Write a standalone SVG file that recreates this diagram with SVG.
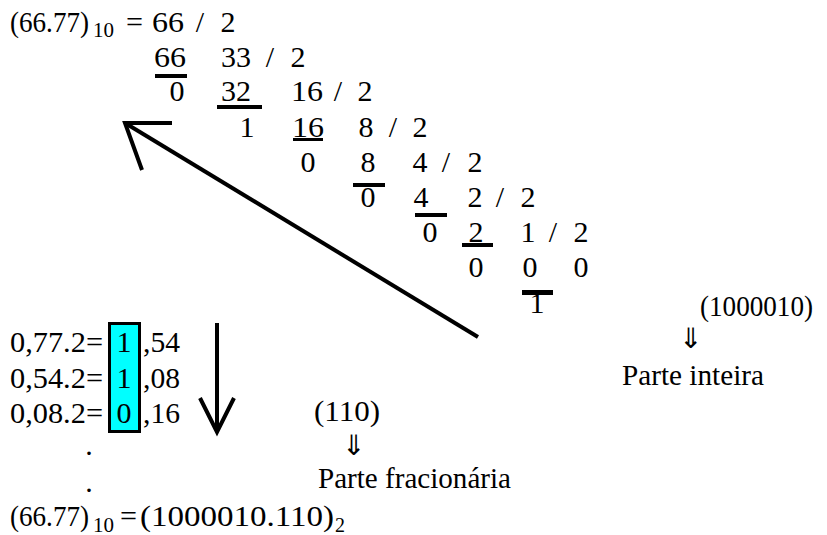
<svg xmlns="http://www.w3.org/2000/svg" width="827" height="535" viewBox="0 0 827 535">
<style>
text{font-family:"Liberation Serif","Times New Roman",serif;font-size:30px;fill:#000}
.c{text-anchor:middle}
.sub{font-size:20px}
.arr{font-family:"DejaVu Sans","Noto Sans",sans-serif;font-size:28px;text-anchor:middle}
.bar{fill:#000}
.ln{stroke:#000;stroke-width:4;fill:none;stroke-linecap:butt}
</style>
<rect width="827" height="535" fill="#fff"/>
<g id="division">
<g id="row1">
<text x="10" y="32" textLength="79" lengthAdjust="spacingAndGlyphs">(66.77)</text>
<text class="sub" x="93" y="37" textLength="21" lengthAdjust="spacingAndGlyphs">10</text>
<text x="126" y="32" textLength="17" lengthAdjust="spacingAndGlyphs">=</text>
<text x="152" y="32" textLength="32" lengthAdjust="spacingAndGlyphs">66</text>
<text class="c" x="200" y="32">/</text>
<text class="c" x="228" y="32">2</text>
</g>
<g id="row2">
<text x="154" y="67" textLength="32" lengthAdjust="spacingAndGlyphs">66</text>
<rect class="bar" x="155" y="74" width="32" height="4"/>
<text x="221" y="67" textLength="30" lengthAdjust="spacingAndGlyphs">33</text>
<text class="c" x="270" y="67">/</text>
<text class="c" x="298" y="67">2</text>
</g>
<g id="row3">
<text class="c" x="177" y="101">0</text>
<text x="221" y="101" textLength="30" lengthAdjust="spacingAndGlyphs">32</text>
<rect class="bar" x="217" y="105" width="45" height="4"/>
<text x="291" y="101" textLength="32" lengthAdjust="spacingAndGlyphs">16</text>
<text class="c" x="338" y="101">/</text>
<text class="c" x="365" y="101">2</text>
</g>
<g id="row4">
<text class="c" x="247" y="137">1</text>
<text x="292" y="137" textLength="32" lengthAdjust="spacingAndGlyphs">16</text>
<rect class="bar" x="293" y="138" width="30" height="3"/>
<text class="c" x="366" y="137">8</text>
<text class="c" x="393" y="137">/</text>
<text class="c" x="420" y="137">2</text>
</g>
<g id="row5">
<text class="c" x="308" y="172">0</text>
<text class="c" x="368" y="172">8</text>
<rect class="bar" x="353" y="183" width="32" height="4"/>
<text class="c" x="420" y="172">4</text>
<text class="c" x="446" y="172">/</text>
<text class="c" x="475" y="172">2</text>
</g>
<g id="row6">
<text class="c" x="368" y="207">0</text>
<text class="c" x="421" y="207">4</text>
<rect class="bar" x="415" y="213" width="32" height="4"/>
<text class="c" x="475" y="207">2</text>
<text class="c" x="500" y="207">/</text>
<text class="c" x="528" y="207">2</text>
</g>
<g id="row7">
<text class="c" x="430" y="242">0</text>
<text class="c" x="476" y="242">2</text>
<rect class="bar" x="462" y="243" width="31" height="4"/>
<text class="c" x="528" y="242">1</text>
<text class="c" x="553" y="242">/</text>
<text class="c" x="581" y="242">2</text>
</g>
<g id="row8">
<text class="c" x="476" y="277">0</text>
<text class="c" x="530" y="277">0</text>
<text class="c" x="581" y="277">0</text>
</g>
<g id="row9">
<text class="c" x="537" y="313">1</text>
<rect class="bar" x="522" y="290" width="31" height="5"/>
</g>
</g>
<g id="integer-result">
<text x="700" y="316" textLength="113" lengthAdjust="spacingAndGlyphs">(1000010)</text>
<text class="arr" x="691" y="348">⇓</text>
<text x="622" y="385" textLength="142" lengthAdjust="spacingAndGlyphs">Parte inteira</text>
</g>
<g id="fraction">
<rect x="109.5" y="323.5" width="30" height="108" fill="#00ffff" stroke="#000" stroke-width="3"/>
<text x="10" y="352" textLength="93" lengthAdjust="spacingAndGlyphs">0,77.2=</text>
<text class="c" x="124" y="352">1</text>
<text x="143" y="352" textLength="37" lengthAdjust="spacingAndGlyphs">,54</text>
<text x="10" y="388" textLength="93" lengthAdjust="spacingAndGlyphs">0,54.2=</text>
<text class="c" x="124" y="388">1</text>
<text x="143" y="388" textLength="37" lengthAdjust="spacingAndGlyphs">,08</text>
<text x="10" y="423" textLength="93" lengthAdjust="spacingAndGlyphs">0,08.2=</text>
<text class="c" x="124" y="423">0</text>
<text x="143" y="423" textLength="37" lengthAdjust="spacingAndGlyphs">,16</text>
<text class="c" x="89" y="455">.</text>
<text class="c" x="89" y="492">.</text>
</g>
<g id="fraction-result">
<text x="314" y="421" textLength="66" lengthAdjust="spacingAndGlyphs">(110)</text>
<text class="arr" x="354" y="455">⇓</text>
<text x="318" y="488" textLength="193" lengthAdjust="spacingAndGlyphs">Parte fracionária</text>
</g>
<g id="final">
<text x="10" y="526" textLength="79" lengthAdjust="spacingAndGlyphs">(66.77)</text>
<text class="sub" x="93" y="532" textLength="21" lengthAdjust="spacingAndGlyphs">10</text>
<text x="120" y="526" textLength="17" lengthAdjust="spacingAndGlyphs">=</text>
<text x="140" y="526" textLength="194" lengthAdjust="spacingAndGlyphs">(1000010.110)</text>
<text class="sub" x="335" y="532">2</text>
</g>
<g id="connectors">
<line class="ln" x1="478" y1="337" x2="125" y2="123"/>
<polyline class="ln" points="172,123 125,123 142,170"/>
<line class="ln" x1="217" y1="323" x2="217" y2="430"/>
<polyline class="ln" points="200,398 217,432 234,398"/>
</g>
</svg>
